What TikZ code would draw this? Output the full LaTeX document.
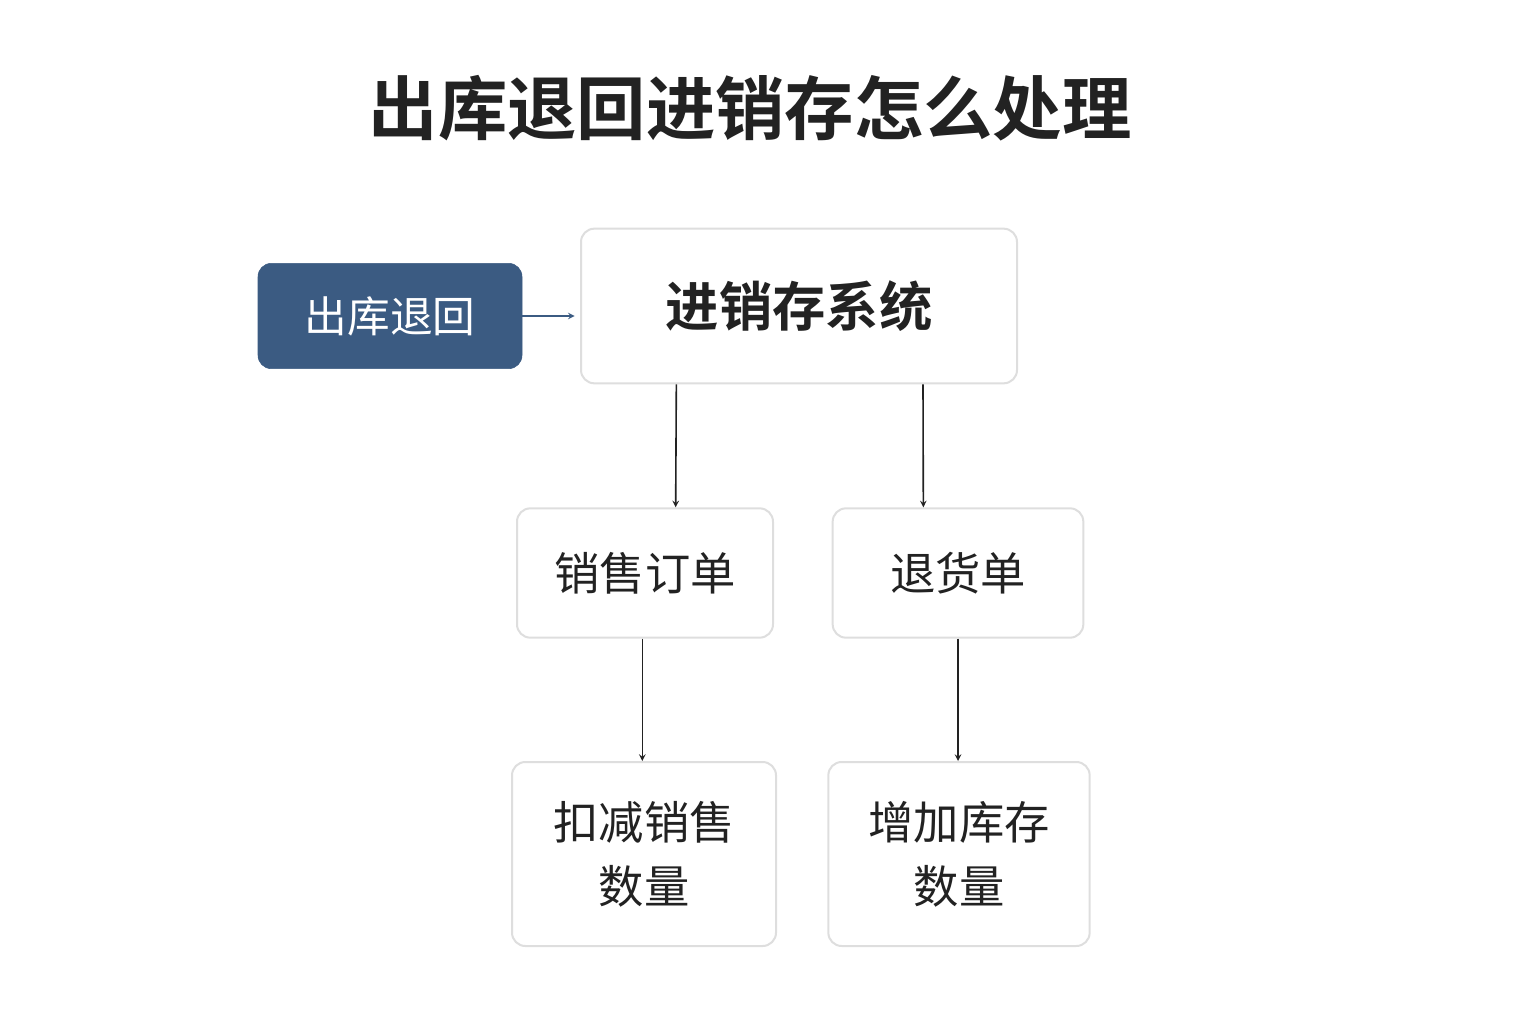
\documentclass[tikz,border=0pt]{standalone}
\usepackage{fontspec}
\setmainfont{Noto Sans CJK SC}
\newfontfamily\cjkbold{Noto Sans CJK SC Bold}
\usetikzlibrary{positioning}
\definecolor{boxblue}{RGB}{59,91,130}
\definecolor{boxgray}{RGB}{222,222,222}
\definecolor{textdark}{RGB}{34,34,34}
\tikzset{
	box/.style={draw=boxgray, line width=1.5pt, rounded corners=10pt, fill=white, text=textdark, align=center},
	arr/.style={->, >=stealth, line width=1.2pt, textdark}
}
\begin{document}
\begin{tikzpicture}[x=0.75pt,y=0.75pt,yscale=-1,xscale=1]
	\useasboundingbox (0,0) rectangle (1536,1024);

	% title
	\node[text=textdark, font=\cjkbold\fontsize{52}{60}\selectfont] (title) at (750,108) {出库退回进销存怎么处理};

	% boxes
	\node[draw=boxblue, fill=boxblue, rounded corners=10pt, text=white, minimum width=198pt, minimum height=79pt, font=\fontsize{32}{38}\selectfont] (ret) at (390,316) {出库退回};
	\node[box, minimum width=327pt, minimum height=116pt, font=\cjkbold\fontsize{40}{48}\selectfont] (sys) at (799,306) {进销存系统};
	\node[box, minimum width=192pt, minimum height=97pt, font=\fontsize{34}{40}\selectfont] (so) at (645,573) {销售订单};
	\node[box, minimum width=188pt, minimum height=97pt, font=\fontsize{34}{40}\selectfont] (rs) at (958,573) {退货单};
	\node[box, minimum width=198pt, minimum height=138pt, font=\fontsize{34}{48}\selectfont] (dec) at (644,854) {扣减销售\\数量};
	\node[box, minimum width=196pt, minimum height=138pt, font=\fontsize{34}{48}\selectfont] (inc) at (959,854) {增加库存\\数量};

	% connectors
	\draw[->, >=stealth, line width=1.2pt, boxblue] (ret.east) -- ([xshift=-4pt]sys.west |- ret.east);
	\draw[arr] ([xshift=-92pt]sys.south) -- ([xshift=23pt]so.north);
	\draw[arr] ([xshift=93pt]sys.south) -- ([xshift=-26pt]rs.north);
	\draw[arr] ([xshift=-2pt]so.south) -- ([xshift=-2pt]so.south |- dec.north);
	\draw[arr] (rs.south) -- (rs.south |- inc.north);
\end{tikzpicture}
\end{document}
